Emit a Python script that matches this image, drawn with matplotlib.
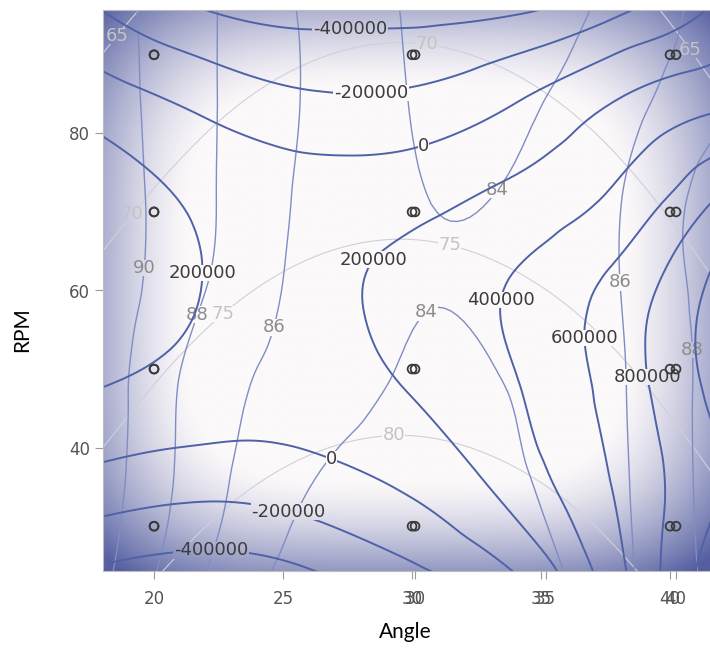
import numpy as np
import matplotlib.pyplot as plt
import matplotlib.tri as mtri
from matplotlib.path import Path

plt.rcParams['contour.negative_linestyle'] = 'solid'

angle_grid = [18, 22, 26, 30, 34, 38, 42]
rpm_grid = [24, 36, 48, 60, 72, 84, 96]

# blue surface, rows follow rpm_grid, columns follow angle_grid
blue_surface = [
    [-440000, -500000, -420000, -240000, 0, 550000, 1150000],
    [-58000, -115000, -74000, 50000, 290000, 630000, 1000000],
    [205000, 130000, 110000, 215000, 390000, 690000, 1080000],
    [330000, 195000, 165000, 260000, 420000, 670000, 1080000],
    [320000, 160000, 100000, 130000, 250000, 440000, 820000],
    [100000, -50000, -160000, -150000, -5000, 210000, 360000],
    [-210000, -410000, -470000, -470000, -440000, -250000, 40000],
]
blue_levels = [-400000, -200000, 0, 200000, 400000, 600000, 800000, 1000000]

# mid grey-blue surface (84..90)
mid_surface = [
    [90.5, 86.0, 83.2, 82.3, 83.0, 85.5, 88.8],
    [91.0, 86.8, 84.1, 83.2, 83.8, 85.7, 89.0],
    [91.2, 87.1, 85.0, 83.8, 84.1, 85.8, 89.0],
    [91.3, 88.0, 85.4, 84.1, 84.4, 85.95, 89.2],
    [91.2, 88.3, 85.6, 84.1, 84.15, 85.9, 89.2],
    [91.0, 88.3, 85.8, 83.95, 83.7, 85.3, 87.5],
    [90.8, 88.3, 85.7, 83.8, 83.0, 84.6, 86.8],
]
mid_levels = [84, 86, 88, 90]

# faint grey surface (65..80)
faint_surface = [
    [78.2, 81.2, 83.0, 83.5, 82.7, 80.6, 77.2],
    [75.8, 78.8, 80.6, 81.1, 80.3, 78.2, 74.8],
    [73.4, 76.4, 78.2, 78.7, 77.9, 75.8, 72.4],
    [71.0, 74.0, 75.8, 76.3, 75.5, 73.4, 70.0],
    [68.6, 71.6, 73.4, 73.9, 73.1, 71.0, 67.6],
    [66.2, 69.2, 71.0, 71.5, 70.7, 68.6, 65.2],
    [63.8, 66.8, 68.6, 69.1, 68.3, 66.2, 62.8],
]
faint_levels = [65, 70, 75, 80]

# design points
design_angle = [20, 20, 20, 20, 30, 30, 30, 30, 40, 40, 40, 40]
design_rpm = [30, 50, 70, 90, 30, 50, 70, 90, 30, 50, 70, 90]

x_ticks = [20, 25, 30, 35, 40]
y_ticks = [40, 60, 80]

# where the contour labels sit
blue_label_pos = [(27.6, 91.5), (28.4, 85.5), (30.4, 78.9), (21.9, 62.2), (28.8, 63.2),
                  (33.0, 59.0), (36.6, 53.9), (39.1, 49.0), (26.9, 38.8), (25.2, 31.8),
                  (22.2, 26.0)]
mid_label_pos = [(32.0, 76.0), (30.6, 57.0), (24.4, 55.5), (21.9, 56.7), (20.0, 62.8),
                 (37.9, 61.0), (40.6, 52.4)]
faint_label_pos = [(18.9, 91.5), (30.5, 89.5), (40.5, 90.0), (31.5, 66.4), (22.4, 58.0),
                   (19.4, 69.0), (29.3, 41.3)]

fig = plt.figure(figsize=(7.10, 6.55), dpi=100)
rect = [103 / 710, 1 - 571 / 655, 607 / 710, 561 / 655]
ax = fig.add_axes(rect)
xlim = (18.02, 41.55)
ylim = (24.3, 95.7)

# vignette background: white centre, blue edges and corners
centre = np.array([252, 249, 250]) / 255
edge = np.array([84, 94, 160]) / 255
U, V = np.meshgrid(np.linspace(-1, 1, 360), np.linspace(-1, 1, 330))
V2 = np.where(V < 0, V * 1.06, V * 0.99)
T = (np.abs(U) ** 4 + np.abs(V2) ** 4) ** 0.25
S = (np.clip((T - 0.72) / 0.48, 0, 1) ** 1.4)[..., None]
bg = centre * (1 - S) + edge * S


def background(z):
    return ax.imshow(bg, extent=(*xlim, *ylim), origin='lower', aspect='auto',
                     zorder=z, interpolation='bilinear')


background(0)

gx, gy = np.meshgrid(angle_grid, rpm_grid)
tri = mtri.Triangulation(gx.ravel(), gy.ravel())
refiner = mtri.UniformTriRefiner(tri)
layers = []


def draw_surface(values, levels, color, lw, label_color, positions, z):
    rtri, rz = refiner.refine_field(np.asarray(values, float).ravel(), subdiv=4)
    cs = ax.tricontour(rtri, rz, levels=levels, colors=color, linewidths=lw, zorder=z)
    labels = ax.clabel(cs, fmt=lambda val: f'{val:.0f}', fontsize=13, colors=label_color,
                       manual=positions, inline=False)
    for lab in labels:
        lab.set_rotation(0)
        lab.set_zorder(z + 0.05)
    layers.append((labels, z))


draw_surface(faint_surface, faint_levels, '#cfd0db', 0.8, '#c4c4c4', faint_label_pos, 1.5)
draw_surface(mid_surface, mid_levels, '#7f8dc4', 1.0, '#8c8c8c', mid_label_pos, 1.7)
draw_surface(blue_surface, blue_levels, '#4f62a8', 1.4, '#3c3c3c', blue_label_pos, 1.9)

ax.scatter(design_angle, design_rpm, s=40, facecolors='none', edgecolors='#3a3a3a',
           linewidths=1.3, zorder=4)

ax.set_xlim(*xlim)
ax.set_ylim(*ylim)
ax.set_xticks(x_ticks)
ax.set_yticks(y_ticks)
ax.tick_params(colors='#9a9a9a', labelcolor='#555555', labelsize=12, length=6, width=0.8)
ax.tick_params(axis='x', pad=8)
for sp in ax.spines.values():
    sp.set_color('#bdbdbd')
    sp.set_linewidth(0.8)
ax.spines['right'].set_visible(False)

# lines are hidden under each label by a clipped copy of the background
fig.canvas.draw()
renderer = fig.canvas.get_renderer()
to_data = ax.transData.inverted()
for labels, z in layers:
    boxes = []
    for lab in labels:
        ext = lab.get_window_extent(renderer).expanded(1.02, 0.9)
        (x0, y0), (x1, y1) = to_data.transform([[ext.x0, ext.y0], [ext.x1, ext.y1]])
        boxes.append(Path([(x0, y0), (x1, y0), (x1, y1), (x0, y1), (x0, y0)], closed=True))
    if boxes:
        im = background(z + 0.03)
        im.set_clip_path(Path.make_compound_path(*boxes), ax.transData)

# second, slightly stretched copy (the picture is two overlaid plots)
ax2 = fig.add_axes(rect)
ax2.patch.set_visible(False)
ax2.set_xlim(18.046, 41.30)
ax2.set_ylim(*ylim)
ax2.scatter(design_angle, design_rpm, s=40, facecolors='none', edgecolors='#3a3a3a',
            linewidths=1.3, zorder=4)
ax2.set_xticks(x_ticks[2:])
ax2.set_yticks([])
ax2.tick_params(axis='x', length=6, width=0.8, colors='#9a9a9a', pad=8,
                labelsize=12, labelcolor='#555555')
for sp in ax2.spines.values():
    sp.set_visible(False)

fig.text(405 / 710, 1 - 632 / 655, 'Angle', ha='center', va='center',
         fontsize=15, family='Lato', color='black')
fig.text(22 / 710, 1 - 330 / 655, 'RPM', ha='center', va='center', rotation=90,
         fontsize=15, family='Lato', color='black')

fig.savefig('out.png', dpi=100)
